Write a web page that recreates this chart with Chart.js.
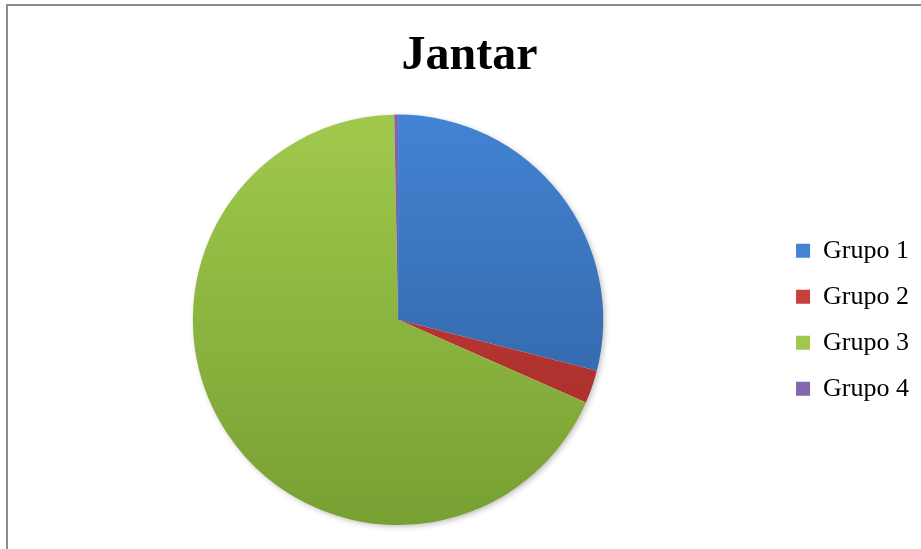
<!DOCTYPE html>
<html>
<head>
<meta charset="utf-8">
<script src="https://cdn.jsdelivr.net/npm/chart.js@4"></script>
<style>
  html, body { margin: 0; padding: 0; background: #fff; }
  #wrap { width: 921px; height: 549px; position: relative; }
</style>
</head>
<body>
<div id="wrap"><canvas id="pieChart" width="921" height="549"></canvas></div>
<script>
// chart data
const categories = ['Grupo 1', 'Grupo 2', 'Grupo 3', 'Grupo 4'];
const values = [29.0, 2.6, 68.1, 0.3];
// top / bottom shades for each slice (Office-style gradient)
const topColors = ['#4283d3', '#c8403c', '#a0c94c', '#8466ad'];
const bottomColors = ['#2e5d9a', '#a22a28', '#77a033', '#6a4c92'];

const serif = '"Liberation Serif", "Times New Roman", serif';

function sliceFill(context) {
    const chart = context.chart;
    const area = chart.chartArea;
    const i = context.dataIndex;
    if (!area) return topColors[i];
    const g = chart.ctx.createLinearGradient(0, area.top, 0, area.bottom);
    g.addColorStop(0, topColors[i]);
    g.addColorStop(1, bottomColors[i]);
    return g;
}

// grey frame lines at the left and top edge
const framePlugin = {
    id: 'frame',
    beforeDraw(chart) {
        const c = chart.ctx;
        c.save();
        c.strokeStyle = '#8c8c8c';
        c.lineWidth = 2;
        c.beginPath();
        c.moveTo(7, 549);
        c.lineTo(7, 5);
        c.lineTo(921, 5);
        c.stroke();
        c.restore();
    }
};

// soft shadow under the whole pie
const shadowPlugin = {
    id: 'pieShadow',
    beforeDatasetsDraw(chart) {
        const arc = chart.getDatasetMeta(0).data[0];
        if (!arc) return;
        const c = chart.ctx;
        c.save();
        c.shadowColor = 'rgba(0,0,0,0.3)';
        c.shadowBlur = 6;
        c.shadowOffsetX = 2;
        c.shadowOffsetY = 2;
        c.fillStyle = '#fff';
        c.beginPath();
        c.arc(arc.x, arc.y, arc.outerRadius - 1, 0, Math.PI * 2);
        c.fill();
        c.restore();
    }
};

const ctx = document.getElementById('pieChart').getContext('2d');
const pieChart = new Chart(ctx, {
    type: 'pie',
    data: {
        labels: categories,
        datasets: [{
            data: values,
            backgroundColor: sliceFill,
            borderWidth: 0
        }]
    },
    options: {
        responsive: false,
        animation: false,
        layout: {
            padding: { left: 20, right: 2, top: 0, bottom: 24 }
        },
        plugins: {
            title: {
                display: true,
                text: 'Jantar',
                color: '#000',
                font: { family: serif, size: 48, weight: 'bold' },
                padding: { top: 28, bottom: 29 }
            },
            legend: {
                position: 'right',
                fullSize: false,
                labels: {
                    color: '#000',
                    font: { family: serif, size: 26 },
                    boxWidth: 14,
                    boxHeight: 14,
                    padding: 20,
                    generateLabels(chart) {
                        return categories.map((name, i) => ({
                            text: name,
                            fillStyle: topColors[i],
                            strokeStyle: bottomColors[i],
                            lineWidth: 0,
                            hidden: false,
                            index: i
                        }));
                    }
                }
            },
            tooltip: { enabled: false }
        }
    },
    plugins: [framePlugin, shadowPlugin]
});
</script>
</body>
</html>
